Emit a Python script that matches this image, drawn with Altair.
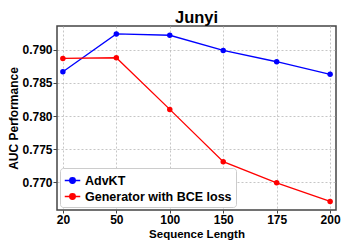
import altair as alt
import pandas as pd

seq_len = ["20", "50", "100", "150", "175", "200"]
advkt = [0.7867, 0.7924, 0.7922, 0.7899, 0.7882, 0.7863]
bce = [0.7887, 0.7888, 0.7810, 0.7731, 0.7699, 0.7671]
series = ["AdvKT", "Generator with BCE loss"]
colors = ["#0000ff", "#ff0000"]

rows = []
for s, vals in zip(series, [advkt, bce]):
    for x, v in zip(seq_len, vals):
        rows.append({"Sequence Length": x, "AUC": v, "Model": s})
df = pd.DataFrame(rows)

FONT = "Liberation Sans"
LEGEND_SYMBOL = "M-1,0H1M0.35,0A0.35,0.35,0,1,1,-0.35,0A0.35,0.35,0,1,1,0.35,0Z"

x = alt.X("Sequence Length:O", sort=seq_len,
          scale=alt.Scale(type="point", padding=0.11),
          axis=alt.Axis(title="Sequence Length", labelAngle=0, grid=True,
                        tickSize=3, labelPadding=1, titlePadding=3, titleFontSize=11.5))
y = alt.Y("AUC:Q", scale=alt.Scale(domain=[0.7658, 0.7936], nice=False, zero=False),
          axis=alt.Axis(title="AUC Performance", values=[0.770, 0.775, 0.780, 0.785, 0.790],
                        format=".3f", labelPadding=1, titlePadding=1))
color = alt.Color("Model:N", sort=series,
                  scale=alt.Scale(domain=series, range=colors),
                  legend=alt.Legend(title=None, orient="bottom-left", symbolType=LEGEND_SYMBOL,
                                    fillColor="white", strokeColor="#cccccc",
                                    padding=4, cornerRadius=3, offset=3,
                                    labelFont=FONT, labelFontSize=12.5, labelFontWeight="bold",
                                    symbolSize=240, symbolStrokeWidth=1.5, rowPadding=1,
                                    labelColor="black", labelOffset=4))

base = alt.Chart(df).encode(x=x, y=y, color=color)
lines = base.mark_line(strokeWidth=1.3)
points = base.mark_circle(size=30, opacity=1)

chart = (lines + points).properties(
    width=279, height=184,
    title=alt.TitleParams("Junyi", font=FONT, fontSize=16.5, fontWeight="bold", color="black", offset=0),
    autosize=alt.AutoSizeParams(type="none"),
    padding={"left": 49, "top": 18, "right": 5, "bottom": 31},
).configure_view(
    stroke="#444444", strokeWidth=1.5
).configure_axis(
    labelFont=FONT, labelFontSize=12, labelFontWeight="bold", labelColor="black",
    titleFont=FONT, titleFontSize=12, titleFontWeight="bold", titleColor="black",
    gridColor="#b8b8b8", gridDash=[2, 2], gridWidth=0.8,
    domain=False, tickColor="#444444", tickSize=4,
)

chart.save("out.html", embed_options={"renderer": "svg", "actions": False})
